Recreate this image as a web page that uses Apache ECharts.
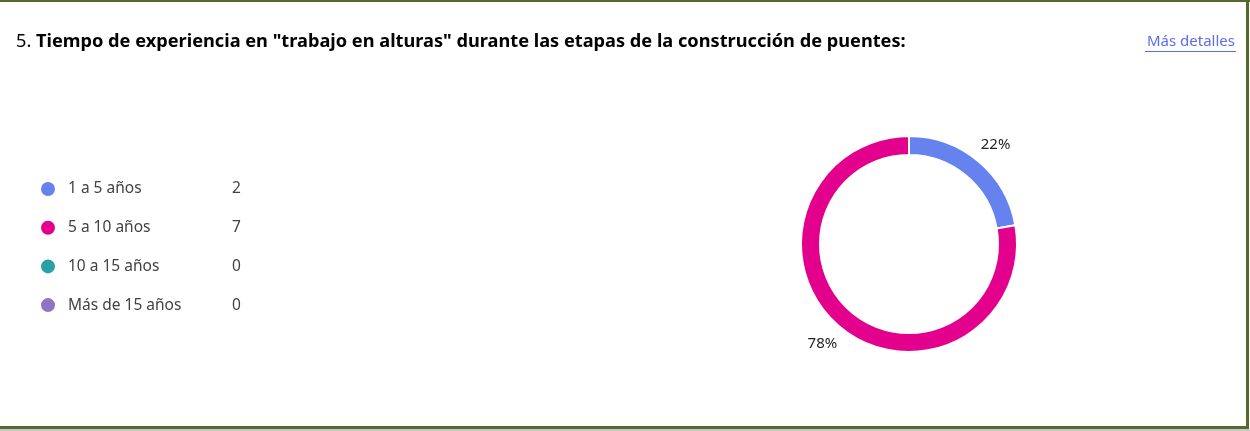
<!DOCTYPE html>
<html>
<head>
<meta charset="utf-8">
<script src="https://cdn.jsdelivr.net/npm/echarts@6/dist/echarts.min.js"></script>
<style>
  html, body { margin: 0; padding: 0; background: #fff; }
  #chart { width: 1250px; height: 431px; }
</style>
</head>
<body>
<div id="chart"></div>
<script>
//categories and counts
var categories = ['1 a 5 años', '5 a 10 años', '10 a 15 años', 'Más de 15 años'];
var counts = [2, 7, 0, 0];
var colors = ['#6682ee', '#e3008c', '#2aa0a4', '#9373c3'];

var chart = echarts.init(document.getElementById('chart'));
var fontFamily = '"Noto Sans", "Open Sans", sans-serif';
var borderGreen = '#55692c';

var pieData = [];
for (var i = 0; i < categories.length; i++) {
    pieData.push({ name: categories[i], value: counts[i], itemStyle: { color: colors[i] } });
}

option = {
    backgroundColor: '#fff',
    textStyle: { fontFamily: fontFamily },
    animation: false,
    legend: {
        orient: 'vertical',
        left: 34,
        top: 175,
        itemGap: 20.7,
        itemWidth: 30,
        itemHeight: 16,
        icon: 'circle',
        data: categories,
        formatter: function (name) {
            var idx = categories.indexOf(name);
            return '{n|' + name + '}{v|' + counts[idx] + '}';
        },
        textStyle: {
            rich: {
                n: { width: 164, fontSize: 15.5, color: '#424242', fontFamily: fontFamily },
                v: { fontSize: 15.5, color: '#424242', fontFamily: fontFamily }
            }
        }
    },
    graphic: [
        { type: 'rect', shape: { x: 0, y: 0, width: 1250, height: 2 }, style: { fill: borderGreen } },
        { type: 'rect', shape: { x: 1246, y: 0, width: 3, height: 429 }, style: { fill: borderGreen } },
        { type: 'rect', shape: { x: 0, y: 426, width: 1249, height: 3 }, style: { fill: borderGreen } },
        { type: 'rect', shape: { x: 0, y: 429, width: 1250, height: 2 }, style: { fill: '#c8c8c8' } },
        {
            type: 'text', left: 16, top: 33,
            style: {
                text: '{r|5. }{b|Tiempo de experiencia en "trabajo en alturas" durante las etapas de la construcción de puentes:}',
                rich: {
                    r: { fontSize: 18.2, color: '#242424', fontFamily: fontFamily },
                    b: { fontSize: 18.2, fontWeight: 'bold', color: '#242424', fontFamily: fontFamily }
                }
            }
        },
        {
            type: 'text', right: 15, top: 34,
            style: { text: 'Más detalles', fontSize: 15, fill: '#5b6cf0', fontFamily: fontFamily }
        },
        { type: 'rect', shape: { x: 1145, y: 51, width: 91, height: 1 }, style: { fill: '#5b6cf0' } }
    ],
    series: [
        {
            name: 'ring',
            type: 'pie',
            center: [909, 244],
            radius: [89, 108],
            startAngle: 90,
            clockwise: true,
            silent: true,
            itemStyle: { borderColor: '#fff', borderWidth: 2 },
            label: { show: false },
            labelLine: { show: false },
            data: pieData
        },
        {
            name: 'labels',
            type: 'pie',
            center: [909, 244],
            radius: [128, 130],
            startAngle: 89,
            clockwise: true,
            silent: true,
            itemStyle: { color: 'transparent' },
            label: {
                show: true,
                position: 'inside',
                fontSize: 15,
                color: '#242424',
                fontFamily: fontFamily,
                formatter: function (p) {
                    return p.value ? Math.round(p.percent) + '%' : '';
                }
            },
            labelLine: { show: false },
            data: categories.map(function (c, i) { return { name: c, value: counts[i] }; })
        }
    ]
};

chart.setOption(option);
</script>
</body>
</html>
